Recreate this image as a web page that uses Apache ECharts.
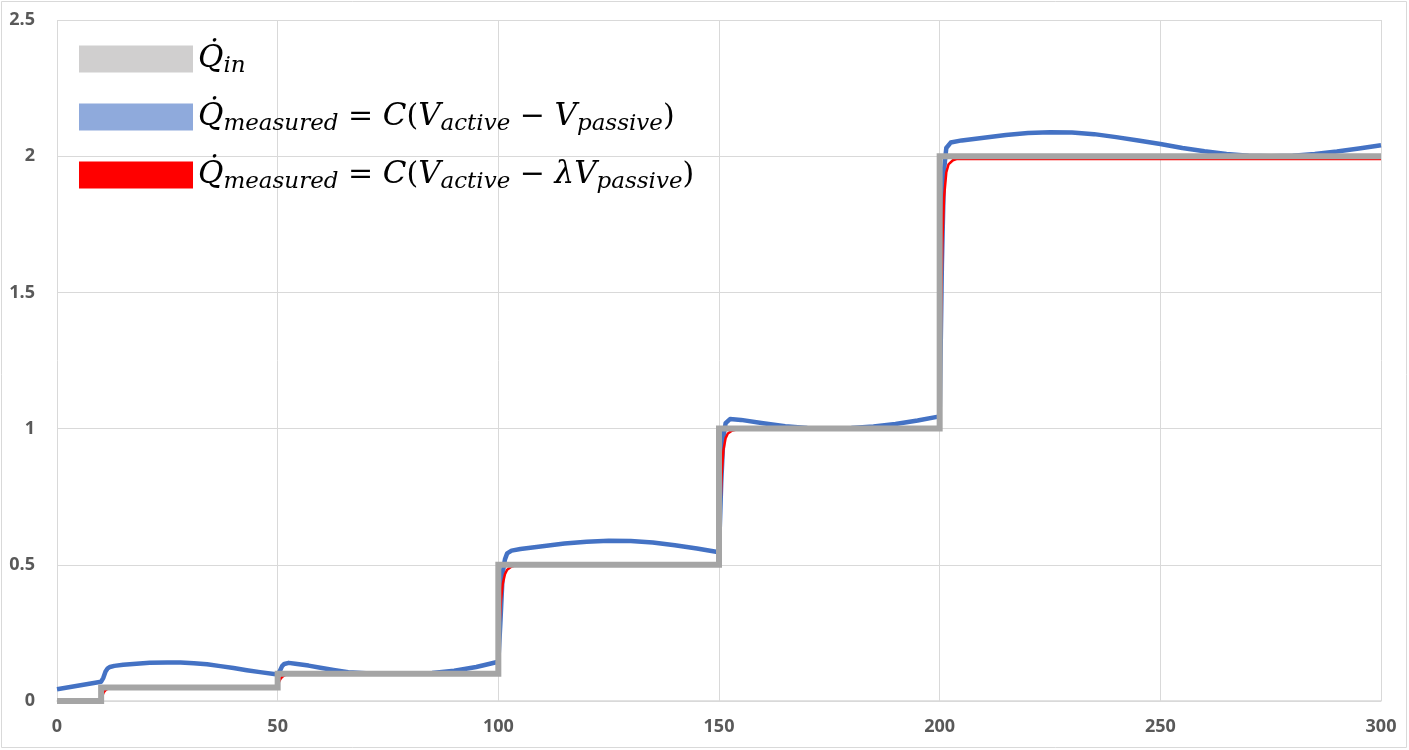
<!DOCTYPE html>
<html>
<head>
<meta charset="utf-8">
<script src="https://cdn.jsdelivr.net/npm/echarts@6/dist/echarts.min.js"></script>
<style>
html,body{margin:0;padding:0;background:#fff;}
#chart{width:1409px;height:750px;}
</style>
</head>
<body>
<div id="chart"></div>
<script>
// x axis ticks / range
const xTicks = [0, 50, 100, 150, 200, 250, 300];
const yTicks = [0, 0.5, 1, 1.5, 2, 2.5];

// Q_in (step input)
const inT = [0, 10, 10, 50, 50, 100, 100, 150, 150, 200, 200, 300];
const inV = [0, 0, 0.05, 0.05, 0.1, 0.1, 0.5, 0.5, 1, 1, 2, 2];

// Q_measured = C(V_active - V_passive)
const blueT = [0, 5, 10, 10.5, 11, 11.5, 12, 13, 15, 18, 21, 25, 28, 31, 34, 37, 40, 43, 46, 50,
  50.5, 51, 51.5, 52.5, 54, 57, 60, 63, 66, 70, 75, 80, 85, 90, 95, 100,
  100.5, 101, 101.5, 102, 103, 105, 110, 115, 120, 125, 130, 135, 140, 145, 150,
  150.5, 151, 151.5, 152.5, 155, 160, 165, 170, 175, 180, 185, 190, 195, 200,
  200.5, 201, 201.5, 202.5, 205, 210, 215, 220, 225, 230, 235, 240, 245, 250, 255, 260, 265, 270, 275, 280, 285, 290, 295, 300];
const blueV = [0.043, 0.057, 0.071, 0.085, 0.108, 0.12, 0.125, 0.129, 0.133, 0.137, 0.140, 0.141, 0.141, 0.139, 0.135, 0.128, 0.121, 0.113, 0.106, 0.097,
  0.11, 0.128, 0.136, 0.140, 0.137, 0.130, 0.121, 0.113, 0.106, 0.102, 0.100, 0.100, 0.103, 0.111, 0.125, 0.144,
  0.30, 0.47, 0.52, 0.542, 0.552, 0.558, 0.568, 0.578, 0.585, 0.588, 0.587, 0.582, 0.572, 0.560, 0.546,
  0.80, 0.97, 1.02, 1.035, 1.032, 1.020, 1.009, 1.002, 1.000, 1.002, 1.008, 1.017, 1.030, 1.045,
  1.60, 1.95, 2.03, 2.05, 2.058, 2.068, 2.078, 2.085, 2.088, 2.087, 2.081, 2.070, 2.058, 2.045, 2.030, 2.018, 2.008, 2.002, 2.000, 2.002, 2.008, 2.017, 2.028, 2.040];

// Q_measured = C(V_active - lambda V_passive)
const redT = [0, 10, 10.3, 10.6, 11, 11.5, 12, 13, 14, 50,
  50.3, 50.6, 51, 51.5, 52, 53, 54, 100,
  100.3, 100.6, 101, 101.5, 102, 103, 104, 150,
  150.3, 150.6, 151, 151.5, 152, 153, 154, 200,
  200.3, 200.6, 201, 201.5, 202, 203, 204, 300];
const redV = [0, 0, 0.02, 0.032, 0.04, 0.045, 0.048, 0.05, 0.051, 0.051,
  0.07, 0.08, 0.088, 0.094, 0.097, 0.1, 0.1, 0.1,
  0.28, 0.37, 0.43, 0.465, 0.482, 0.494, 0.498, 0.498,
  0.70, 0.83, 0.92, 0.965, 0.982, 0.993, 0.997, 0.997,
  1.40, 1.68, 1.85, 1.94, 1.97, 1.985, 1.99, 1.99];

const zip = (a, b) => a.map((t, i) => [t, b[i]]);

const serif = 'DejaVu Serif';
const rich = {
  m: {fontFamily: serif, fontStyle: 'italic', fontSize: 31, color: '#000', lineHeight: 38, verticalAlign: 'middle'},
  u: {fontFamily: serif, fontSize: 30, color: '#000', lineHeight: 38, verticalAlign: 'middle'},
  s: {fontFamily: serif, fontStyle: 'italic', fontSize: 23, color: '#000', lineHeight: 38, verticalAlign: 'bottom', padding: [14, 0, 0, 0]}
};

const nameIn = 'Qin';
const nameBlue = 'Qm1';
const nameRed = 'Qm2';
const labels = {};
labels[nameIn] = '{m|Q\u0307}{s|in}';
labels[nameBlue] = '{m|Q\u0307}{s|measured}{u| = }{m|C}{u|(}{m|V}{s|active}{u| \u2212 }{m|V}{s|passive}{u|)}';
labels[nameRed] = '{m|Q\u0307}{s|measured}{u| = }{m|C}{u|(}{m|V}{s|active}{u| \u2212 }{m|\u03bbV}{s|passive}{u|)}';

const chart = echarts.init(document.getElementById('chart'));
chart.setOption({
  animation: false,
  backgroundColor: '#fff',
  graphic: [{
    type: 'rect', shape: {x: 1.5, y: 1.5, width: 1405, height: 746},
    style: {fill: 'none', stroke: '#d9d9d9', lineWidth: 1}, silent: true
  }],
  grid: {left: 57, right: 28, top: 20, bottom: 49},
  legend: {
    orient: 'vertical', left: 74, top: 36,
    icon: 'rect', itemWidth: 114, itemHeight: 27, itemGap: 21,
    formatter: n => labels[n],
    textStyle: {rich: rich, padding: [0, 0, 0, 0]},
    data: [
      {name: nameIn, itemStyle: {color: '#d0cfcf', borderWidth: 0}},
      {name: nameBlue, itemStyle: {color: '#8faadc', borderWidth: 0}},
      {name: nameRed, itemStyle: {color: '#ff0000', borderWidth: 0}}
    ]
  },
  xAxis: {
    type: 'value', min: xTicks[0], max: xTicks[xTicks.length - 1], interval: 50,
    axisLine: {show: true, lineStyle: {color: '#d9d9d9', width: 1.5}},
    axisTick: {show: false},
    splitLine: {show: true, lineStyle: {color: '#d9d9d9', width: 1}},
    axisLabel: {margin: 17, fontSize: 18, fontWeight: 'bold', color: '#595959', fontFamily: 'Open Sans'}
  },
  yAxis: {
    type: 'value', min: yTicks[0], max: yTicks[yTicks.length - 1], interval: 0.5,
    axisLine: {show: false},
    axisTick: {show: false},
    splitLine: {show: true, lineStyle: {color: '#d9d9d9', width: 1}},
    axisLabel: {margin: 22, fontSize: 18, fontWeight: 'bold', color: '#595959', fontFamily: 'Open Sans'}
  },
  series: [
    {
      name: nameIn, type: 'line', data: zip(inT, inV), showSymbol: false, symbol: 'none', z: 5,
      lineStyle: {color: '#a5a5a5', width: 6, join: 'miter'}, itemStyle: {color: '#a5a5a5'}
    },
    {
      name: nameBlue, type: 'line', data: zip(blueT, blueV), showSymbol: false, symbol: 'none', z: 3,
      lineStyle: {color: '#4472c4', width: 4.5, join: 'round'}, itemStyle: {color: '#4472c4'}
    },
    {
      name: nameRed, type: 'line', data: zip(redT, redV), showSymbol: false, symbol: 'none', z: 4,
      lineStyle: {color: '#ff0000', width: 2.5}, itemStyle: {color: '#ff0000'}
    }
  ]
});
</script>
</body>
</html>
